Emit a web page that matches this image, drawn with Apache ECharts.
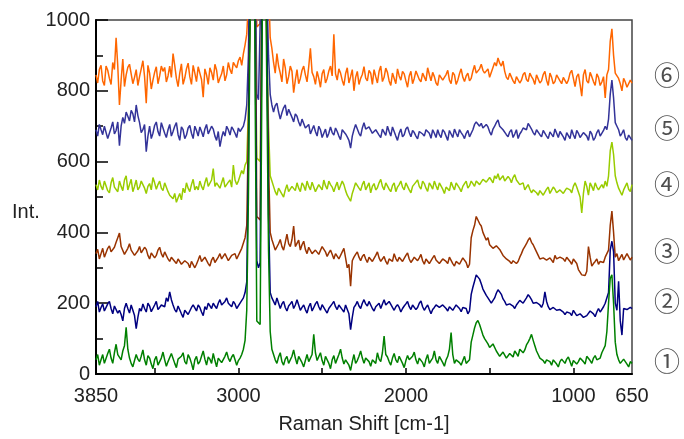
<!DOCTYPE html>
<html><head><meta charset="utf-8">
<script src="https://cdn.jsdelivr.net/npm/echarts@6/dist/echarts.min.js"></script>
<style>html,body{margin:0;padding:0;background:#fff}#c{width:684px;height:439px}</style>
</head><body><div id="c"></div>
<script>
// Sampling grid of the spectra (Raman shift, cm-1), high to low
const shiftStart = 3850, shiftStep = 10, shiftCount = 321;
const ramanShift = [];
for (let i = 0; i < shiftCount; i++) ramanShift.push(shiftStart - i * shiftStep);

// Intensities (offset spectra), one row = 200 cm-1
const spec1 = [
40,55,25,40,55,30,35,58,70,45,30,60,84,55,50,40,65,80,132,70,
45,30,20,38,55,42,35,50,68,40,25,52,45,28,15,40,50,25,30,45,
62,40,22,35,40,58,55,30,18,42,38,50,60,35,28,55,45,30,12,40,
50,28,35,50,65,42,25,48,42,30,58,38,20,45,48,32,30,50,62,45,
35,48,55,40,25,38,45,55,70,95,180,500,1000,1500,1800,800,150,145,140,800,
1600,1300,800,350,120,70,55,40,30,48,60,35,25,42,50,30,35,50,68,45,
28,50,45,32,20,38,55,35,40,55,112,60,38,42,60,38,25,50,48,30,
15,40,52,30,35,55,70,45,28,40,45,25,10,35,55,30,38,50,65,45,
30,45,50,35,22,40,42,30,60,42,35,60,107,55,48,35,25,45,58,40,
32,50,45,30,18,38,52,40,36,50,62,40,28,45,48,32,20,42,55,30,
38,45,65,40,30,50,45,32,22,40,50,70,117,55,30,40,45,32,25,38,
50,30,35,40,90,110,130,145,151,140,125,110,100,95,85,75,70,85,80,65,
60,50,45,62,60,45,40,58,55,48,65,58,50,70,75,60,68,82,90,100,
112,95,80,65,55,45,40,38,30,40,45,35,25,40,38,28,20,35,42,40,
30,42,48,35,22,38,40,28,35,45,50,35,28,50,45,38,30,45,52,40,
35,45,60,55,80,120,200,270,280,200,90,55,40,30,25,42,35,28,20,35,
30];
const spec2 = [
190,205,175,188,198,178,182,198,205,185,170,192,195,172,180,168,150,185,200,185,
172,195,190,165,128,160,185,178,198,185,175,200,192,176,180,195,205,182,188,195,
200,190,215,205,232,210,195,182,175,192,190,170,160,180,185,168,172,188,195,190,
178,195,188,175,165,190,182,200,195,185,200,192,185,200,210,195,192,205,215,200,
198,190,205,198,185,190,200,205,215,230,260,600,1200,1800,2000,1000,320,300,315,1000,
1800,1500,1000,450,230,215,205,195,215,200,185,198,205,188,178,192,198,205,185,195,
210,195,180,188,195,182,172,190,200,178,188,198,205,190,180,196,195,180,172,185,
190,198,205,190,182,195,198,182,175,195,190,170,125,160,188,195,205,192,185,200,
210,198,192,205,200,185,178,190,195,200,185,198,210,195,190,205,202,188,180,190,
196,188,175,185,192,198,205,190,182,195,198,182,188,200,206,190,180,188,195,182,
170,182,188,195,200,188,185,195,198,185,178,190,192,180,185,195,198,185,176,188,
190,185,170,178,225,245,262,280,278,268,255,240,235,222,215,210,200,205,215,228,
238,232,225,212,205,195,190,198,202,192,185,195,200,208,212,200,205,215,224,218,
210,200,195,202,205,195,188,200,232,205,190,182,178,188,192,180,175,182,185,175,
168,175,180,172,165,180,178,165,160,170,172,160,155,165,168,178,180,170,162,175,
185,175,170,190,200,200,230,350,375,345,200,180,262,150,110,185,190,182,182,188,
185];
const spec3 = [
340,352,325,340,355,330,335,355,362,345,340,358,372,385,398,360,355,338,340,355,
368,350,345,335,330,348,360,342,338,358,352,335,325,342,345,328,335,350,358,340,
330,345,342,325,318,330,335,318,312,325,328,310,305,320,325,312,300,318,320,300,
310,322,335,318,315,330,328,312,305,322,330,315,318,330,340,325,322,340,335,320,
315,335,330,340,325,330,345,355,360,385,420,700,1100,1700,1900,1100,445,440,435,1100,
1700,1300,900,600,400,380,365,350,345,368,380,360,350,372,395,368,360,380,418,360,
365,378,350,365,375,352,340,358,362,340,335,350,355,338,340,360,365,345,332,342,
350,338,325,340,345,325,330,345,355,328,300,310,248,320,330,338,345,330,320,332,
338,325,315,330,335,318,322,335,345,328,318,322,332,318,310,325,330,318,340,326,
318,330,335,318,322,335,342,325,315,322,330,335,320,328,338,320,310,325,328,312,
316,328,335,322,320,312,310,325,328,318,312,330,325,312,305,318,322,310,315,328,
325,315,300,310,385,405,420,445,440,425,418,400,395,378,385,365,370,355,352,362,
365,352,348,335,330,325,320,318,312,320,325,312,318,330,340,352,360,368,378,385,
372,365,355,345,335,325,320,328,330,322,318,328,325,315,335,325,320,330,332,325,
318,330,325,318,310,325,322,312,295,290,280,285,278,290,360,330,305,312,318,325,
310,318,322,315,330,325,350,420,460,400,330,340,320,325,338,322,325,340,335,322,
330];
const spec4 = [
535,520,548,530,520,545,540,518,512,540,555,528,530,515,545,530,518,548,560,520,
535,550,515,530,548,520,528,545,540,525,510,530,538,520,555,540,522,535,545,525,
518,540,535,515,505,500,495,510,485,498,510,492,525,512,540,525,515,535,550,520,
530,520,545,530,520,540,555,530,535,548,580,530,540,545,525,540,555,528,530,542,
548,528,590,548,535,545,560,575,565,590,600,750,1000,1600,1800,1000,610,605,600,1000,
1600,1300,950,700,560,545,530,515,505,525,520,508,500,520,535,515,512,530,528,518,
540,525,515,540,532,518,545,530,520,542,538,515,510,535,530,520,548,532,522,545,
535,528,515,530,542,520,525,545,535,518,505,500,488,510,525,540,540,525,518,535,
545,520,530,540,512,530,538,520,526,540,550,530,520,540,535,522,515,532,540,515,
528,535,545,528,520,540,535,520,512,530,530,542,548,530,522,545,538,525,516,540,
532,522,545,532,520,540,535,522,510,528,530,518,542,530,520,540,535,525,515,530,
538,545,525,532,545,538,530,545,548,535,535,550,552,542,540,555,548,540,560,552,
566,548,550,560,545,540,558,552,540,555,563,548,545,535,530,540,520,528,535,522,
512,520,525,512,505,518,520,505,510,522,528,510,515,528,522,512,508,520,525,510,
518,525,530,520,512,530,540,528,525,500,455,510,545,530,505,540,530,518,540,528,
520,528,535,525,545,530,560,630,655,620,560,540,525,520,505,520,530,540,522,515,
535];
const spec5 = [
690,672,705,690,676,700,698,665,670,695,712,678,688,712,645,700,725,708,740,728,
715,745,735,712,760,730,710,682,690,705,628,672,700,665,680,702,712,685,672,710,
695,680,668,690,705,672,685,700,710,676,660,698,690,665,675,695,702,680,665,700,
688,672,698,685,670,692,705,678,680,700,692,672,660,685,642,668,685,672,700,690,
675,698,690,680,668,695,685,690,700,720,760,900,1300,1900,2100,1200,790,775,780,1200,
1800,1500,1100,900,790,760,740,758,765,740,720,738,752,760,730,748,745,725,712,735,
728,712,700,720,715,695,690,705,678,690,702,685,672,700,690,668,680,692,668,680,
698,682,675,695,685,672,662,690,695,678,670,660,638,672,690,705,700,680,672,695,
710,692,688,698,702,680,676,690,695,675,668,692,688,674,700,685,672,698,685,672,
660,680,692,670,676,692,698,682,670,688,682,672,664,685,690,678,672,690,695,680,
666,690,680,668,690,676,668,690,684,672,660,688,678,668,692,680,670,690,682,675,
665,680,688,670,672,690,705,712,715,700,708,695,690,705,698,684,675,692,700,710,
718,700,705,690,685,676,670,684,690,668,678,690,665,678,685,695,700,690,708,700,
692,682,675,690,688,676,670,688,685,672,665,684,680,670,692,680,668,685,682,670,
660,682,678,665,690,676,665,688,680,668,670,682,685,672,660,686,678,660,668,682,
690,672,675,688,700,690,720,790,830,780,710,700,690,672,680,690,668,660,675,670,
660];
const spec6 = [
845,822,860,872,828,815,870,858,835,818,880,860,950,870,760,830,890,812,845,866,
875,848,820,838,860,815,840,862,885,840,765,872,850,805,830,852,868,820,842,870,
855,866,825,842,870,838,905,872,835,812,850,876,818,836,862,878,840,818,872,850,
826,868,850,832,782,862,845,818,865,852,830,875,858,822,836,848,870,828,845,880,
860,848,880,872,865,885,895,872,905,930,960,1050,1400,2000,2200,1500,980,975,990,1400,
2000,1800,1300,1100,950,920,880,850,905,870,850,825,890,865,820,840,870,855,795,830,
860,820,835,858,870,845,825,868,920,852,840,818,855,835,810,848,860,822,835,856,
870,842,960,848,830,862,850,830,815,848,865,822,840,860,800,838,855,818,835,846,
868,836,828,858,850,818,860,840,822,855,870,826,838,864,852,828,815,850,846,820,
862,842,830,855,848,828,810,842,855,820,835,856,860,832,825,850,845,828,865,846,
828,852,840,822,815,845,850,830,832,846,858,830,820,852,845,818,830,848,862,838,
826,842,850,828,835,856,872,850,845,862,875,858,850,845,862,838,840,866,880,870,
893,878,870,884,855,838,832,850,848,828,820,840,845,822,830,846,852,832,826,850,
840,832,818,845,848,822,828,846,855,830,815,850,838,820,826,845,850,828,820,838,
842,820,830,850,858,835,812,840,848,818,785,845,860,828,822,852,840,826,815,848,
838,815,825,840,780,845,860,940,975,900,850,845,835,820,800,835,825,810,815,830,
822];

const seriesNames = ['①','②','③','④','⑤','⑥'];
const seriesColors = ['#008000','#000080','#993300','#99cc00','#333399','#ff6600'];
const seriesData = [spec1, spec2, spec3, spec4, spec5, spec6];
const labelLevels = [28, 196, 339, 527, 686, 835];
const xTickValues = [3500, 3000, 2500, 2000, 1500, 1000];
const xLabelValues = [3850, 3000, 2000, 1000, 650];
const yTicks = { min: 0, max: 1000, interval: 200 };

const chart = echarts.init(document.getElementById('c'), null, { renderer: 'canvas' });
const FONT = "'Liberation Sans', Arial, sans-serif";

const lineSeries = [];
for (let k = seriesData.length - 1; k >= 0; k--) {
  lineSeries.push({
    type: 'line',
    name: seriesNames[k],
    data: ramanShift.map((x, i) => [x, seriesData[k][i]]),
    showSymbol: false,
    clip: true,
    lineStyle: { color: seriesColors[k], width: 1.5 },
    itemStyle: { color: seriesColors[k] },
    z: 2
  });
}
lineSeries.push({
  type: 'scatter',
  silent: true,
  clip: false,
  symbolSize: 0,
  data: labelLevels.map((v, k) => ({ value: [650, v], name: seriesNames[k] })),
  label: {
    show: true, position: 'right', distance: 22,
    formatter: p => p.name,
    fontSize: 26, color: '#222',
    fontFamily: "'DejaVu Serif', 'Noto Sans CJK JP', serif"
  },
  z: 5
});

chart.setOption({
  animation: false,
  backgroundColor: '#fff',
  grid: { left: 96, right: 52, top: 20, bottom: 62, show: true, borderColor: '#444', borderWidth: 1.5, backgroundColor: 'transparent' },
  xAxis: {
    type: 'value', inverse: true, min: 650, max: 3850,
    axisLine: { show: true, onZero: false, lineStyle: { color: '#000', width: 2 } },
    axisTick: { show: true, inside: true, length: 6, customValues: xTickValues, lineStyle: { color: '#000', width: 1.5 } },
    axisLabel: { customValues: xLabelValues, formatter: v => String(v), fontSize: 20, color: '#222', margin: 12, fontFamily: FONT, showMinLabel: true, showMaxLabel: true },
    splitLine: { show: false },
    name: 'Raman Shift [cm-1]', nameLocation: 'middle', nameGap: 40,
    nameTextStyle: { fontSize: 20, color: '#222', fontFamily: FONT }
  },
  yAxis: {
    type: 'value', min: yTicks.min, max: yTicks.max, interval: yTicks.interval,
    axisLine: { show: true, onZero: false, lineStyle: { color: '#000', width: 2 } },
    axisTick: { show: true, inside: true, length: 12, lineStyle: { color: '#000', width: 1.5 } },
    minorTick: { show: true, splitNumber: 2, length: 7, lineStyle: { color: '#000', width: 1.5 } },
    axisLabel: { formatter: v => String(v), fontSize: 20, color: '#222', margin: 6, fontFamily: FONT },
    splitLine: { show: false }, minorSplitLine: { show: false }
  },
  graphic: [{
    type: 'text', left: 12, top: 202,
    style: { text: 'Int.', fontSize: 20, fill: '#222', fontFamily: FONT }
  }],
  series: lineSeries
});
</script>
</body></html>
